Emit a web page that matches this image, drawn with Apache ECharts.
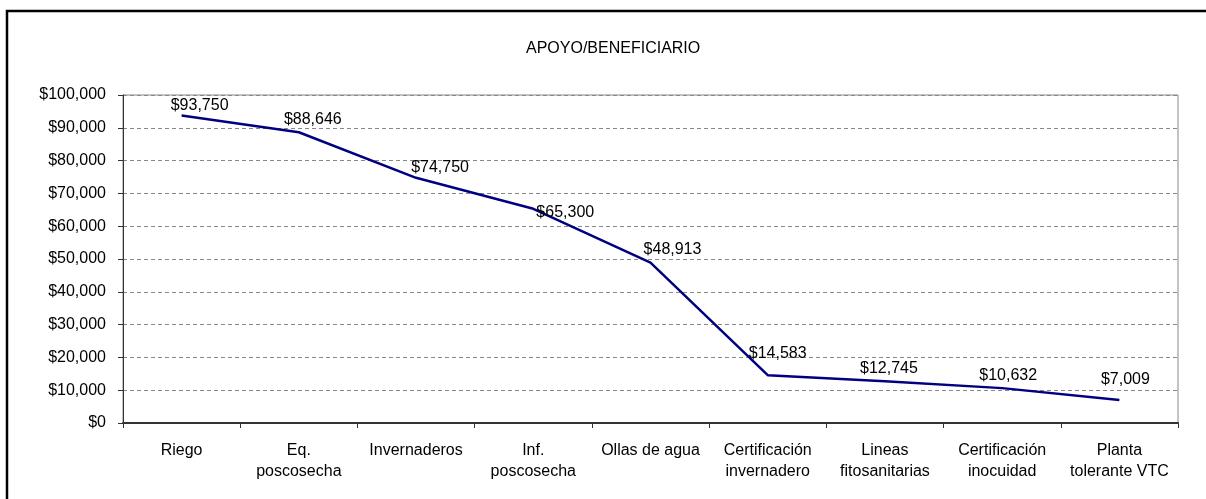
<!DOCTYPE html>
<html>
<head>
<meta charset="utf-8">
<script src="https://cdn.jsdelivr.net/npm/echarts@6/dist/echarts.min.js"></script>
<style>
  html, body { margin: 0; padding: 0; background: #fff; }
  #chart { width: 1206px; height: 499px; }
</style>
</head>
<body>
<div id="chart"></div>
<script>
const categories = [
  "Riego", "Eq.\nposcosecha", "Invernaderos", "Inf.\nposcosecha", "Ollas de agua",
  "Certificación\ninvernadero", "Lineas\nfitosanitarias", "Certificación\ninocuidad", "Planta\ntolerante VTC"
];
const apoyo = [93750, 88646, 74750, 65300, 48913, 14583, 12745, 10632, 7009];
const yMin = 0;
const yMax = 100000;
const yStep = 10000;

// where the original placed each value label, relative to its point (px)
const labelNudge = [[18, -1], [14, -4], [24, -2], [32, 12], [22, -4], [10, -13], [4, -4], [6, -4], [6, -12]];

const money = v => "$" + Math.round(v).toLocaleString("en-US");
const font = "Liberation Sans, Arial, sans-serif";

const chart = echarts.init(document.getElementById("chart"));
chart.setOption({
  animation: false,
  backgroundColor: "#fff",
  textStyle: { fontFamily: font, color: "#000" },
  title: {
    text: "APOYO/BENEFICIARIO",
    left: 521,
    top: 36,
    textStyle: { fontFamily: font, fontSize: 16, fontWeight: "normal", color: "#000" }
  },
  graphic: [{
    type: "rect",
    shape: { x: 7, y: 11, width: 1300, height: 600 },
    style: { fill: "none", stroke: "#000", lineWidth: 2.5 },
    silent: true
  }],
  grid: {
    left: 123, right: 28, top: 95, bottom: 76,
    show: true, borderColor: "#888", borderWidth: 1
  },
  xAxis: {
    type: "category",
    data: categories,
    boundaryGap: true,
    axisLine: { lineStyle: { color: "#333", width: 2 } },
    axisTick: { show: true, length: 5, lineStyle: { color: "#333" } },
    axisLabel: {
      interval: 0, margin: 17, fontSize: 16, lineHeight: 21,
      color: "#000", fontFamily: font, align: "center"
    }
  },
  yAxis: {
    type: "value",
    min: yMin, max: yMax, interval: yStep,
    axisLine: { show: true, lineStyle: { color: "#333", width: 1 } },
    axisTick: { show: true, length: 5, lineStyle: { color: "#333" } },
    axisLabel: { formatter: money, fontSize: 16, color: "#000", fontFamily: font, margin: 17 },
    splitLine: { lineStyle: { color: "#888", type: [4, 3], width: 1 } }
  },
  series: [{
    type: "line",
    data: apoyo.map((v, i) => ({ value: v, label: { offset: labelNudge[i] } })),
    symbol: "circle",
    symbolSize: 1,
    showSymbol: true,
    itemStyle: { color: "rgba(0,0,128,0)" },
    lineStyle: { color: "#000080", width: 2.5 },
    label: {
      show: true, position: "top", distance: 0,
      formatter: p => money(p.value),
      fontSize: 16, color: "#000", fontFamily: font
    }
  }]
});
</script>
</body>
</html>
